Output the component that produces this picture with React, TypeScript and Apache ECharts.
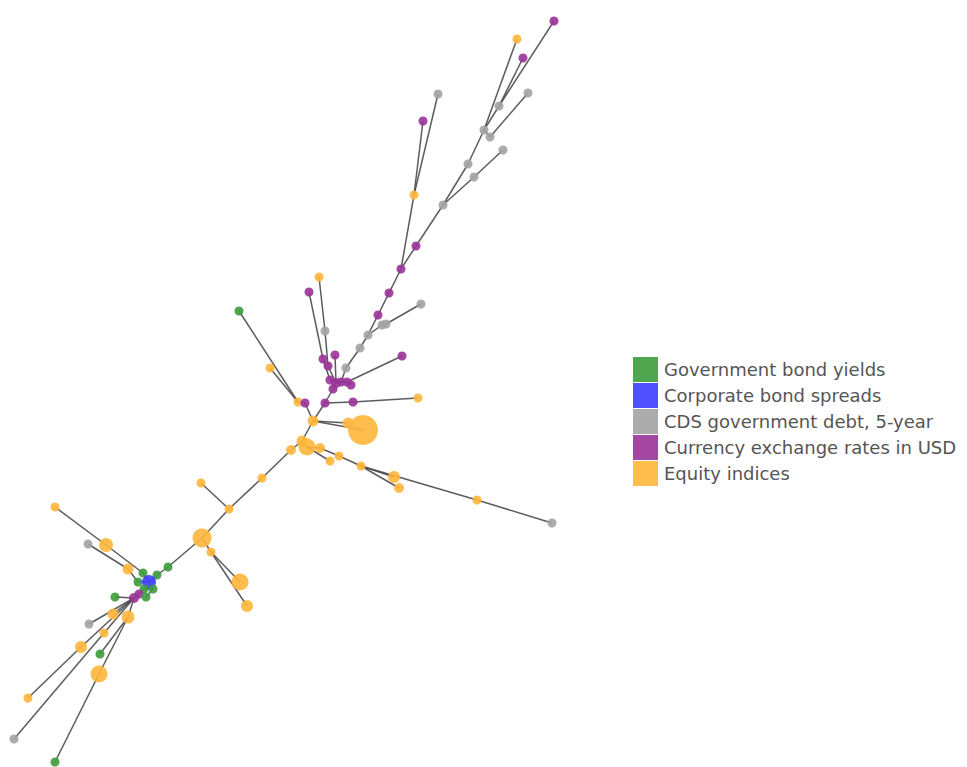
import React, { useEffect, useRef } from "react";
import * as echarts from "echarts";

// Market groups shown as graph categories (legend order)
const categoryNames = [
  "Government bond yields",
  "Corporate bond spreads",
  "CDS government debt, 5-year",
  "Currency exchange rates in USD",
  "Equity indices",
];
const categoryColors = ["#3c9c3c", "#3d3dff", "#a3a3a3", "#993399", "#ffb63b"];

// Category shorthand: G, B, C, X, E -> index in categoryNames
const G = 0, B = 1, C = 2, X = 3, E = 4;

// Tree nodes: [id, category, x, y, weight]
const nodes: [string, number, number, number, number][] = [
  ["t1", X, 554, 21, 9], ["t2", E, 517, 39, 9], ["t3", X, 523, 58, 9],
  ["t4", C, 438, 94, 9], ["t5", C, 528, 93, 9], ["t6", X, 423, 121, 9],
  ["t7", C, 499, 106, 9], ["t8", C, 484, 130, 9], ["t9", C, 490, 137, 9],
  ["t10", C, 503, 150, 9], ["t11", C, 468, 164, 9], ["t12", C, 474, 177, 9],
  ["t13", E, 414, 195, 9], ["t14", C, 443, 205, 9],
  ["m1", X, 416, 246, 9], ["m2", X, 401, 269, 9], ["m3", X, 389, 293, 9],
  ["m4", X, 378, 315, 9], ["m5", C, 421, 304, 9], ["m6", C, 386, 324, 9],
  ["m6b", C, 382, 325, 9], ["m7", C, 368, 335, 9], ["m8", C, 360, 348, 9],
  ["m9", C, 346, 368, 9], ["m10", X, 402, 356, 9], ["m11", E, 319, 277, 9],
  ["m12", X, 309, 292, 9], ["m13", G, 239, 311, 9], ["m14", C, 325, 331, 9],
  ["m15", X, 323, 359, 9], ["m16", X, 335, 355, 9], ["m17", X, 328, 366, 9],
  ["k1", X, 330, 380, 9], ["k2", X, 336, 383, 10], ["k3", X, 341, 382, 9],
  ["k4", X, 347, 382, 9], ["k5", X, 351, 385, 9], ["k6", X, 333, 389, 9],
  ["m18", E, 270, 368, 9], ["m19", E, 298, 402, 9], ["m20", X, 305, 403, 9],
  ["m21", X, 325, 403, 9], ["m22", X, 353, 402, 9], ["m23", E, 418, 398, 9],
  ["m24", E, 313, 421, 11], ["m25", E, 348, 423, 11], ["m26", E, 363, 430, 30],
  ["o1", E, 302, 441, 11], ["o2", E, 307, 447, 17], ["o3", E, 320, 448, 10],
  ["o4", E, 291, 450, 10], ["o5", E, 330, 461, 9], ["o6", E, 339, 456, 9],
  ["o7", E, 361, 466, 9], ["o8", E, 394, 477, 12], ["o9", E, 399, 488, 10],
  ["o10", E, 477, 500, 9], ["o11", C, 552, 523, 9],
  ["s1", E, 262, 478, 9], ["s2", E, 201, 483, 9], ["s3", E, 229, 509, 9],
  ["s4", E, 202, 538, 19], ["s5", E, 211, 552, 9], ["s6", E, 240, 582, 17],
  ["s7", E, 247, 606, 12],
  ["b1", E, 55, 507, 9], ["b2", C, 88, 544, 9], ["b3", E, 106, 545, 14],
  ["b4", E, 128, 569, 11], ["b5", G, 168, 567, 9], ["b6", G, 157, 575, 9],
  ["b7", G, 143, 573, 9], ["b8", G, 138, 582, 9], ["b9", B, 149, 582, 14],
  ["b10", G, 153, 589, 9], ["b11", G, 144, 589, 9], ["b12", G, 115, 597, 9],
  ["b13", X, 139, 594, 9], ["b14", X, 134, 598, 10], ["b15", G, 146, 597, 9],
  ["b16", C, 89, 624, 9], ["b17", E, 113, 614, 11], ["b18", E, 128, 617, 13],
  ["b19", E, 104, 633, 9], ["b20", E, 81, 647, 12], ["b21", G, 100, 654, 9],
  ["b22", E, 99, 674, 17], ["b23", E, 28, 698, 9], ["b24", C, 14, 739, 9],
  ["b25", G, 55, 762, 9],
];

// Tree edges between node ids
const links: [string, string][] = [
  ["t1", "t7"], ["t3", "t7"], ["t2", "t8"], ["t7", "t8"], ["t5", "t9"],
  ["t9", "t8"], ["t8", "t11"], ["t10", "t12"], ["t11", "t14"], ["t12", "t14"],
  ["t4", "t13"], ["t6", "t13"], ["t14", "m1"], ["t13", "m2"], ["m1", "m2"],
  ["m2", "m3"], ["m3", "m4"], ["m4", "m7"], ["m5", "m6"], ["m6", "m6b"],
  ["m6b", "m7"], ["m7", "m8"], ["m8", "m9"], ["m9", "k3"], ["m10", "k4"],
  ["m11", "m14"], ["m14", "m17"], ["m12", "m15"], ["m15", "k1"], ["m16", "k2"],
  ["m17", "k2"], ["k1", "k2"], ["k2", "k3"], ["k3", "k4"], ["k4", "k5"],
  ["k2", "k6"], ["m13", "m19"], ["m18", "m19"], ["m19", "m20"], ["m20", "m24"],
  ["k6", "m21"], ["m21", "m24"], ["m21", "m22"], ["m22", "m23"], ["m24", "m25"],
  ["m24", "m26"], ["m24", "o1"], ["o1", "o2"], ["o2", "o3"], ["o1", "o4"],
  ["o2", "o5"], ["o3", "o6"], ["o6", "o7"], ["o7", "o8"], ["o7", "o9"],
  ["o7", "o10"], ["o10", "o11"], ["o4", "s1"], ["s1", "s3"], ["s2", "s3"],
  ["s3", "s4"], ["s4", "s5"], ["s5", "s6"], ["s5", "s7"], ["s4", "b5"],
  ["b5", "b6"], ["b6", "b9"], ["b7", "b9"], ["b8", "b9"], ["b9", "b10"],
  ["b10", "b11"], ["b11", "b13"], ["b13", "b14"], ["b15", "b10"], ["b12", "b14"],
  ["b1", "b3"], ["b3", "b7"], ["b2", "b4"], ["b4", "b8"], ["b14", "b16"],
  ["b14", "b17"], ["b23", "b20"], ["b20", "b14"], ["b14", "b18"], ["b24", "b19"],
  ["b19", "b14"], ["b18", "b21"], ["b18", "b22"], ["b22", "b25"],
];

export default function App() {
  const ref = useRef<HTMLDivElement>(null);

  useEffect(() => {
    document.body.style.margin = "0";
    document.body.style.overflow = "hidden";
    const chart = echarts.init(ref.current!, undefined, { renderer: "svg" });

    chart.setOption({
      animation: false,
      backgroundColor: "#ffffff",
      grid: { left: 0, right: 0, top: 0, bottom: 0 },
      xAxis: { type: "value", min: 0, max: 967, show: false },
      yAxis: { type: "value", min: 0, max: 767, inverse: true, show: false },
      legend: {
        orient: "vertical",
        left: 633,
        top: 357,
        padding: 0,
        icon: "rect",
        itemWidth: 25,
        itemHeight: 25,
        itemGap: 1,
        selectedMode: false,
        data: categoryNames,
        textStyle: {
          fontFamily: "DejaVu Sans",
          fontSize: 18,
          color: "#555555",
          padding: [0, 0, 0, 1],
        },
      },
      series: [
        {
          type: "graph",
          coordinateSystem: "cartesian2d",
          layout: "none",
          categories: categoryNames.map((name, i) => ({
            name,
            itemStyle: { color: categoryColors[i] },
          })),
          data: nodes.map(([id, cat, x, y, w]) => ({
            name: id,
            value: [x, y],
            category: cat,
            symbolSize: w,
          })),
          links: links.map(([source, target]) => ({ source, target })),
          itemStyle: { opacity: 0.9 },
          lineStyle: { color: "#4a4a4a", width: 1.5, opacity: 0.9, curveness: 0 },
          label: { show: false },
          emphasis: { disabled: true },
        },
      ],
    });

    return () => chart.dispose();
  }, []);

  return <div ref={ref} style={{ width: 967, height: 767 }} />;
}
